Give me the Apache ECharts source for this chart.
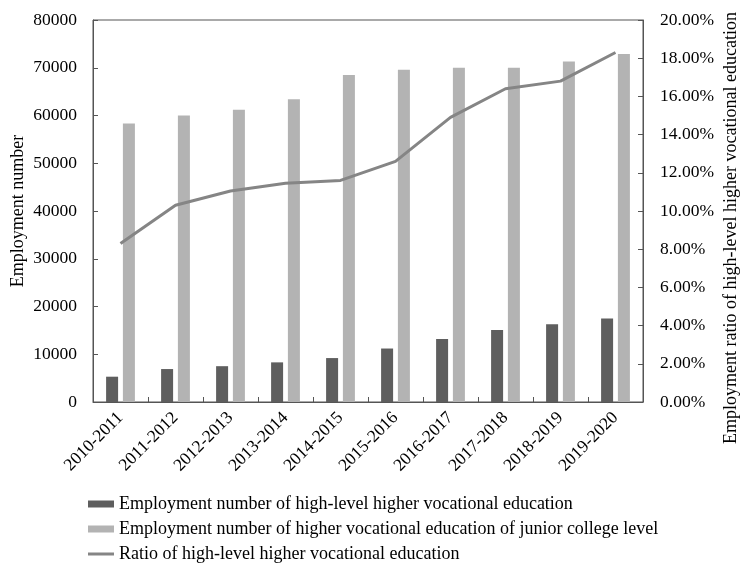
<!DOCTYPE html>
<html>
<head>
<meta charset="utf-8">
<script src="https://cdn.jsdelivr.net/npm/echarts@6/dist/echarts.min.js"></script>
<style>
  html, body { margin: 0; padding: 0; background: #fff; }
  #chart { width: 740px; height: 575px; }
</style>
</head>
<body>
<div id="chart"></div>
<script>
// School years on the category axis
const years = ['2010-2011', '2011-2012', '2012-2013', '2013-2014', '2014-2015',
               '2015-2016', '2016-2017', '2017-2018', '2018-2019', '2019-2020'];

// Employment numbers (persons)
const highLevelEmployment = [5300, 6900, 7500, 8300, 9200, 11200, 13200, 15100, 16300, 17500];
const juniorCollegeEmployment = [58300, 60000, 61200, 63400, 68500, 69600, 70000, 70000, 71300, 72900];

// Employment ratio of high-level higher vocational education (percent)
const highLevelRatio = [8.3, 10.3, 11.05, 11.45, 11.6, 12.6, 14.9, 16.4, 16.8, 18.3];

const seriesNames = [
  'Employment number of high-level higher vocational education',
  'Employment number of higher vocational education of junior college level',
  'Ratio of high-level higher vocational education'
];

const FONT = '"Liberation Serif", "Times New Roman", serif';
const AXIS_COLOR = '#555';
const LINE_COLOR = '#858585';

// Thin horizontal stroke for the line series' legend key (padded to the full key height)
const LINE_KEY = 'path://M0,0L0.01,0L0.01,0.01Z M0,2L27,2L27,5L0,5Z M0,7L0.01,7L0.01,6.99Z';

const chart = echarts.init(document.getElementById('chart'), null, { renderer: 'canvas' });

chart.setOption({
  animation: false,
  backgroundColor: '#fff',
  textStyle: { fontFamily: FONT, color: '#000' },
  grid: {
    left: 93, right: 97, top: 20, bottom: 173,
    outerBoundsMode: 'none',
    containLabel: false,
    show: true, borderColor: AXIS_COLOR, borderWidth: 1, backgroundColor: 'transparent'
  },
  legend: {
    orient: 'vertical',
    left: 83, top: 490, height: 84,
    itemWidth: 26, itemHeight: 7, itemGap: 7,
    textStyle: { fontFamily: FONT, fontSize: 18, lineHeight: 18, color: '#000' },
    data: [
      { name: seriesNames[0], icon: 'rect' },
      { name: seriesNames[1], icon: 'rect' },
      { name: seriesNames[2], icon: LINE_KEY, itemStyle: { color: LINE_COLOR } }
    ]
  },
  xAxis: {
    type: 'category',
    data: years,
    axisLine: { lineStyle: { color: AXIS_COLOR, width: 1 } },
    axisTick: { show: true, inside: true, length: 5, alignWithLabel: false, lineStyle: { color: AXIS_COLOR } },
    axisLabel: { rotate: 45, margin: 13, fontFamily: FONT, fontSize: 17.5, color: '#000', interval: 0 }
  },
  yAxis: [
    {
      type: 'value',
      min: 0, max: 80000, interval: 10000,
      name: 'Employment number',
      nameLocation: 'middle',
      nameGap: 66,
      nameRotate: 90,
      nameMoveOverlap: false,
      nameTextStyle: { fontFamily: FONT, fontSize: 18, color: '#000' },
      axisLine: { show: true, lineStyle: { color: AXIS_COLOR } },
      axisTick: { show: true, inside: true, length: 5, lineStyle: { color: AXIS_COLOR } },
      axisLabel: { margin: 16, fontFamily: FONT, fontSize: 17.5, color: '#000', formatter: v => String(v) },
      splitLine: { show: false }
    },
    {
      type: 'value',
      position: 'right',
      min: 0, max: 20, interval: 2,
      name: 'Employment ratio of high-level higher vocational education',
      nameLocation: 'middle',
      nameGap: 79,
      nameRotate: 90,
      nameMoveOverlap: false,
      nameTextStyle: { fontFamily: FONT, fontSize: 18, color: '#000', padding: [0, 34, 0, 0] },
      axisLine: { show: true, lineStyle: { color: AXIS_COLOR } },
      axisTick: { show: true, inside: true, length: 5, lineStyle: { color: AXIS_COLOR } },
      axisLabel: {
        margin: 17, fontFamily: FONT, fontSize: 17.5, color: '#000',
        formatter: v => v.toFixed(2) + '%'
      },
      splitLine: { show: false }
    }
  ],
  series: [
    {
      name: seriesNames[0],
      type: 'bar',
      data: highLevelEmployment,
      barWidth: 12,
      barGap: '40%',
      itemStyle: { color: '#5e5e5e' }
    },
    {
      name: seriesNames[1],
      type: 'bar',
      data: juniorCollegeEmployment,
      barWidth: 12,
      itemStyle: { color: '#b3b3b3' }
    },
    {
      name: seriesNames[2],
      type: 'line',
      yAxisIndex: 1,
      data: highLevelRatio,
      symbol: 'none',
      showSymbol: false,
      lineStyle: { color: LINE_COLOR, width: 3 },
      itemStyle: { color: LINE_COLOR },
      z: 5
    }
  ]
});
</script>
</body>
</html>
